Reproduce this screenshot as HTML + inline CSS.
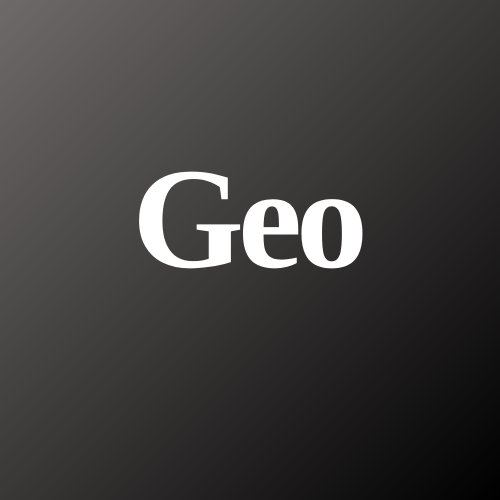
<!DOCTYPE html>
<html>
<head>
<meta charset="utf-8">
<style>
html,body{margin:0;padding:0;}
body{width:500px;height:500px;overflow:hidden;}
#tile{position:relative;width:500px;height:500px;background:linear-gradient(135deg,#6e6a6a 0%,#3a3737 50%,#000 100%);}
#title{position:absolute;left:0;top:220px;width:494px;text-align:center;font-family:"Liberation Serif",serif;font-weight:bold;font-size:144px;color:#fff;line-height:0;letter-spacing:-6px;}
</style>
</head>
<body>
<div id="tile">
<div id="title">Geo</div>
</div>
</body>
</html>
